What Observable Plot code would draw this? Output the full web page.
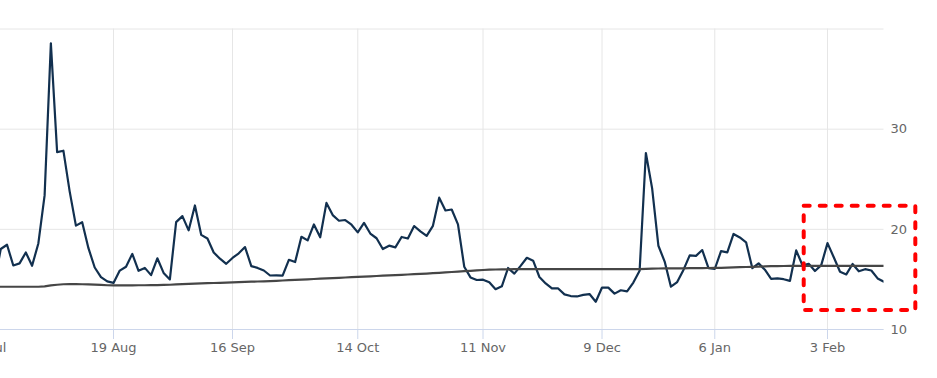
<!DOCTYPE html>
<html>
<head>
<meta charset="utf-8">
<script src="https://cdn.jsdelivr.net/npm/d3@7"></script>
<script src="https://cdn.jsdelivr.net/npm/@observablehq/plot@0.6"></script>
<style>
  html, body { margin: 0; padding: 0; background: #ffffff; }
  #chart svg { overflow: hidden; display: block; }
</style>
</head>
<body>
<div id="chart"></div>
<script>
// Trading days (ordinal axis: one slot per session)
const dates = [
  "2024-07-22","2024-07-23","2024-07-24","2024-07-25","2024-07-26","2024-07-29","2024-07-30","2024-07-31",
  "2024-08-01","2024-08-02","2024-08-05","2024-08-06","2024-08-07","2024-08-08","2024-08-09",
  "2024-08-12","2024-08-13","2024-08-14","2024-08-15","2024-08-16","2024-08-19","2024-08-20","2024-08-21","2024-08-22","2024-08-23",
  "2024-08-26","2024-08-27","2024-08-28","2024-08-29","2024-08-30","2024-09-03","2024-09-04","2024-09-05","2024-09-06",
  "2024-09-09","2024-09-10","2024-09-11","2024-09-12","2024-09-13","2024-09-16","2024-09-17","2024-09-18","2024-09-19","2024-09-20",
  "2024-09-23","2024-09-24","2024-09-25","2024-09-26","2024-09-27","2024-09-30","2024-10-01","2024-10-02","2024-10-03","2024-10-04",
  "2024-10-07","2024-10-08","2024-10-09","2024-10-10","2024-10-11","2024-10-14","2024-10-15","2024-10-16","2024-10-17","2024-10-18",
  "2024-10-21","2024-10-22","2024-10-23","2024-10-24","2024-10-25","2024-10-28","2024-10-29","2024-10-30","2024-10-31","2024-11-01",
  "2024-11-04","2024-11-05","2024-11-06","2024-11-07","2024-11-08","2024-11-11","2024-11-12","2024-11-13","2024-11-14","2024-11-15",
  "2024-11-18","2024-11-19","2024-11-20","2024-11-21","2024-11-22","2024-11-25","2024-11-26","2024-11-27","2024-11-29",
  "2024-12-02","2024-12-03","2024-12-04","2024-12-05","2024-12-06","2024-12-09","2024-12-10","2024-12-11","2024-12-12","2024-12-13",
  "2024-12-16","2024-12-17","2024-12-18","2024-12-19","2024-12-20","2024-12-23","2024-12-24","2024-12-26","2024-12-27",
  "2024-12-30","2024-12-31","2025-01-02","2025-01-03","2025-01-06","2025-01-07","2025-01-08","2025-01-10",
  "2025-01-13","2025-01-14","2025-01-15","2025-01-16","2025-01-17","2025-01-21","2025-01-22","2025-01-23","2025-01-24",
  "2025-01-27","2025-01-28","2025-01-29","2025-01-30","2025-01-31","2025-02-03","2025-02-04","2025-02-05","2025-02-06","2025-02-07",
  "2025-02-10","2025-02-11","2025-02-12","2025-02-13","2025-02-14"
];

// Daily series (navy line)
const daily = [
  14.91, 14.72, 18.04, 18.46, 16.39, 16.60, 17.69, 16.36,
  18.59, 23.39, 38.57, 27.71, 27.85, 23.79, 20.37,
  20.71, 18.12, 16.19, 15.23, 14.80, 14.65, 15.88, 16.27, 17.55, 15.86,
  16.15, 15.43, 17.11, 15.65, 15.00, 20.72, 21.32, 19.90, 22.38,
  19.45, 19.08, 17.69, 17.07, 16.56, 17.14, 17.61, 18.23, 16.33, 16.15,
  15.89, 15.39, 15.41, 15.37, 16.96, 16.73, 19.26, 18.90, 20.49, 19.21,
  22.64, 21.42, 20.86, 20.93, 20.46, 19.70, 20.64, 19.58, 19.11, 18.03,
  18.37, 18.20, 19.24, 19.08, 20.33, 19.80, 19.34, 20.35, 23.16, 21.88,
  21.98, 20.49, 16.27, 15.20, 14.94, 14.97, 14.71, 14.02, 14.31, 16.14,
  15.58, 16.35, 17.16, 16.87, 15.24, 14.60, 14.10, 14.10, 13.51,
  13.34, 13.30, 13.45, 13.54, 12.77, 14.19, 14.18, 13.58, 13.92, 13.81,
  14.69, 15.87, 27.62, 24.09, 18.36, 16.78, 14.27, 14.73, 15.95,
  17.40, 17.35, 17.93, 16.13, 16.04, 17.82, 17.70, 19.54,
  19.19, 18.71, 16.12, 16.60, 15.97, 15.06, 15.10, 15.02, 14.85,
  17.90, 16.41, 16.56, 15.84, 16.43, 18.62, 17.21, 15.77, 15.50, 16.54,
  15.81, 16.02, 15.89, 15.10, 14.77
];

// Long moving average (dark grey line)
const average = [
  14.27, 14.27, 14.27, 14.27, 14.27, 14.27, 14.27, 14.27,
  14.27, 14.30, 14.40, 14.47, 14.52, 14.53, 14.53,
  14.52, 14.50, 14.48, 14.45, 14.42, 14.40, 14.40, 14.40, 14.41, 14.42,
  14.42, 14.43, 14.44, 14.45, 14.47, 14.50, 14.53, 14.55, 14.58,
  14.60, 14.62, 14.64, 14.66, 14.68, 14.71, 14.73, 14.75, 14.77, 14.79,
  14.81, 14.83, 14.86, 14.89, 14.92, 14.95, 14.98, 15.01, 15.04, 15.07,
  15.10, 15.13, 15.16, 15.19, 15.22, 15.25, 15.28, 15.31, 15.34, 15.37,
  15.40, 15.43, 15.46, 15.49, 15.52, 15.55, 15.58, 15.62, 15.66, 15.70,
  15.74, 15.78, 15.82, 15.86, 15.90, 15.94, 15.97, 15.99, 16.00, 16.01,
  16.02, 16.02, 16.03, 16.03, 16.03, 16.03, 16.03, 16.03, 16.03,
  16.03, 16.03, 16.03, 16.03, 16.03, 16.03, 16.03, 16.03, 16.03, 16.03,
  16.03, 16.03, 16.06, 16.08, 16.09, 16.10, 16.10, 16.11, 16.11,
  16.12, 16.12, 16.13, 16.14, 16.15, 16.16, 16.18, 16.20,
  16.22, 16.24, 16.26, 16.28, 16.30, 16.32, 16.33, 16.34, 16.35,
  16.35, 16.35, 16.35, 16.35, 16.35, 16.35, 16.35, 16.35, 16.35, 16.35,
  16.35, 16.35, 16.35, 16.35, 16.35
];

// Axis ticks
const xTickDates = ["2024-07-22","2024-08-19","2024-09-16","2024-10-14","2024-11-11","2024-12-09","2025-01-06","2025-02-03"];
const yGridValues = [10, 20, 30, 40];
const yLabelValues = [10, 20, 30];

// Highlight box (in data units: session slots and value)
const highlightBox = [{ x1: 130.28, x2: 148.1, y1: 11.9, y2: 22.3 }];

const rows = dates.map((d, i) => ({ i, date: d, daily: daily[i], average: average[i] }));
const xTicks = xTickDates.map(d => dates.indexOf(d));
const fmt = d3.utcFormat("%-d %b");
const tickText = new Map(xTickDates.map(d => [dates.indexOf(d), fmt(new Date(d))]));

const chart = Plot.plot({
  width: 937,
  height: 378,
  marginLeft: 0,
  marginRight: 53.5,
  marginTop: 28.5,
  marginBottom: 49,
  style: { fontFamily: "DejaVu Sans", fontSize: "13px", color: "#666666", background: "#ffffff", overflow: "hidden" },
  x: { type: "linear", domain: [1.958, 143.02] },
  y: { type: "linear", domain: [10, 40] },
  marks: [
    Plot.gridY(yGridValues, { stroke: "#e6e6e6", strokeOpacity: 1 }),
    Plot.gridX(xTicks, { stroke: "#e6e6e6", strokeOpacity: 1 }),
    Plot.ruleY([10], { stroke: "#ccd6eb", strokeWidth: 1 }),
    Plot.axisX(xTicks, { tickSize: 10, tickPadding: 3, stroke: "#ccd6eb", strokeOpacity: 1, tickFormat: i => tickText.get(i), label: null, fill: "#666666" }),
    Plot.axisY(yLabelValues, { anchor: "right", tickSize: 0, tickPadding: 6.5, label: null, fill: "#666666" }),
    Plot.line(rows, { x: "i", y: "daily", stroke: "#12304f", strokeWidth: 2.2, clip: true }),
    Plot.line(rows, { x: "i", y: "average", stroke: "#464646", strokeWidth: 2.2, clip: true }),
    Plot.rect(highlightBox, { x1: "x1", x2: "x2", y1: "y1", y2: "y2", fill: "none", stroke: "#ff0000", strokeWidth: 4, strokeDasharray: "6,10", strokeLinecap: "round", strokeLinejoin: "round" })
  ]
});
document.getElementById("chart").appendChild(chart);
</script>
</body>
</html>
